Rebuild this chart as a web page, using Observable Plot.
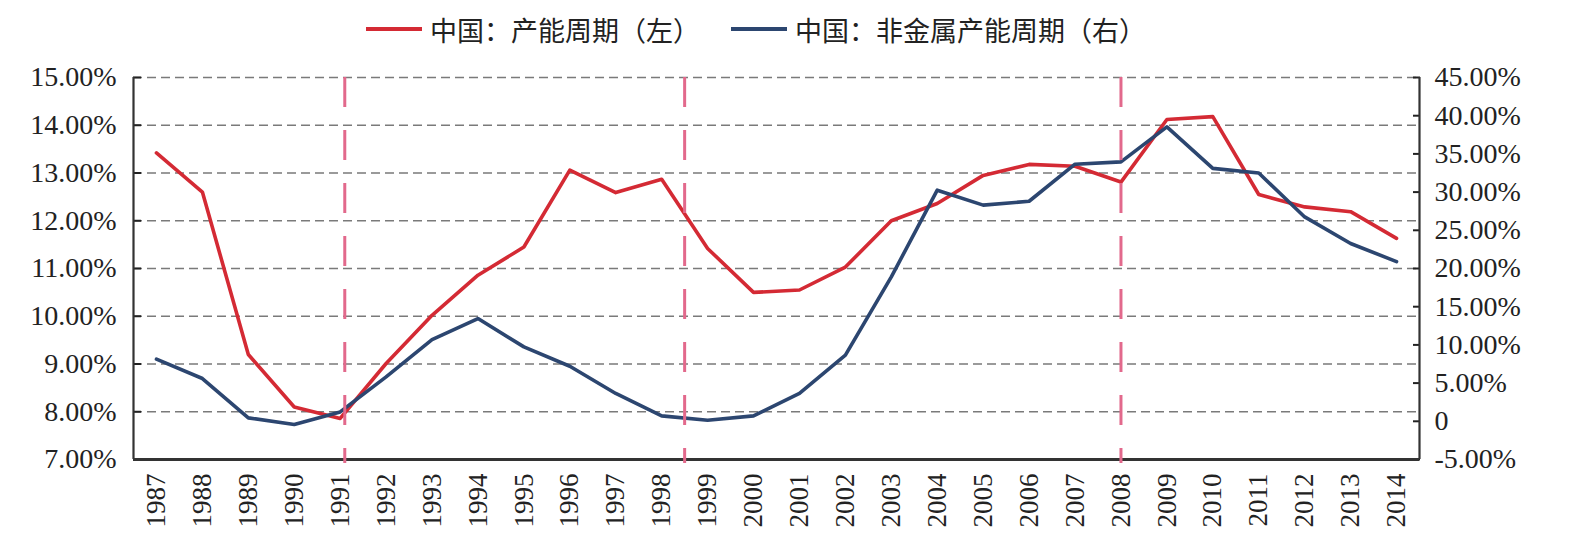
<!DOCTYPE html>
<html>
<head>
<meta charset="utf-8">
<script src="https://cdn.jsdelivr.net/npm/d3@7"></script>
<script src="https://cdn.jsdelivr.net/npm/@observablehq/plot@0.6"></script>
<style>
  body { margin: 0; background: #fff; }
  #legend {
    height: 58px; display: flex; align-items: center; padding-left: 366px;
    font-family: "Noto Sans CJK SC", sans-serif; font-size: 27px; color: #222;
  }
  #legend .item { display: flex; align-items: center; }
  #legend .item + .item { margin-left: 31px; }
  #legend .swatch { width: 56px; height: 4px; margin-right: 8px; }
</style>
</head>
<body>
<div id="legend"></div>
<div id="chart"></div>
<script>
// Years on the horizontal axis
const years = [1987, 1988, 1989, 1990, 1991, 1992, 1993, 1994, 1995, 1996,
  1997, 1998, 1999, 2000, 2001, 2002, 2003, 2004, 2005, 2006,
  2007, 2008, 2009, 2010, 2011, 2012, 2013, 2014];

// 中国：产能周期（左轴，%）
const capacityCycle = [13.42, 12.60, 9.20, 8.10, 7.86, 9.01, 10.02, 10.86, 11.45, 13.06,
  12.59, 12.87, 11.42, 10.50, 10.55, 11.03, 12.00, 12.36, 12.95, 13.18,
  13.14, 12.81, 14.12, 14.18, 12.55, 12.29, 12.19, 11.63];

// 中国：非金属产能周期（右轴，%）
const nonMetalCycle = [8.13, 5.6, 0.45, -0.42, 1.23, 5.81, 10.7, 13.45, 9.74, 7.21,
  3.64, 0.71, 0.14, 0.71, 3.64, 8.65, 18.9, 30.25, 28.3, 28.8,
  33.65, 33.95, 38.54, 33.1, 32.5, 26.75, 23.27, 20.9];

// Axis ticks
const leftTicks = [7, 8, 9, 10, 11, 12, 13, 14, 15];
const rightTicks = [-5, 0, 5, 10, 15, 20, 25, 30, 35, 40, 45];

// Cycle turning points marked with vertical dashed lines
const cycleBreaks = [1991.1, 1998.5, 2008];

const seriesNames = ["中国：产能周期（左）", "中国：非金属产能周期（右）"];
const seriesColors = ["#d42a34", "#2c4670"];

// Legend
const legend = d3.select("#legend");
seriesNames.forEach((name, i) => {
  const item = legend.append("div").attr("class", "item");
  item.append("div").attr("class", "swatch").style("background", seriesColors[i]);
  item.append("span").text(name);
});

// Map right-axis values onto the left-axis scale
const lo = leftTicks[0], hi = leftTicks[leftTicks.length - 1];
const rlo = rightTicks[0], rhi = rightTicks[rightTicks.length - 1];
const toLeft = v => lo + (v - rlo) * (hi - lo) / (rhi - rlo);

const xDomain = [years[0] - 0.5, years[years.length - 1] + 0.5];
const capacityData = years.map((year, i) => ({year, value: capacityCycle[i]}));
const nonMetalData = years.map((year, i) => ({year, value: toLeft(nonMetalCycle[i])}));

const chart = Plot.plot({
  width: 1586,
  height: 498,
  marginTop: 19,
  marginBottom: 97,
  marginLeft: 133,
  marginRight: 167,
  style: {fontFamily: "'Liberation Serif', 'Times New Roman', serif", color: "#222", background: "#fff"},
  x: {type: "linear", domain: xDomain},
  y: {domain: [lo, hi]},
  marks: [
    Plot.gridY(leftTicks.filter(t => t > lo), {stroke: "#7a7a7a", strokeOpacity: 1, strokeWidth: 1.3, strokeDasharray: "9,5"}),
    Plot.axisY(leftTicks, {anchor: "left", tickSize: -8, tickPadding: 25, strokeWidth: 2, fontSize: 28,
      tickFormat: d => d.toFixed(2) + "%", label: null}),
    Plot.axisY(rightTicks.map(toLeft), {anchor: "right", tickSize: -7, tickPadding: 22, strokeWidth: 2, fontSize: 28,
      tickFormat: (d, i) => rightTicks[i] === 0 ? "0" : rightTicks[i].toFixed(2) + "%", label: null}),
    Plot.axisX(years, {anchor: "bottom", tickSize: 0, tickPadding: 14, tickRotate: -90, fontSize: 27,
      tickFormat: d => String(d), label: null}),
    Plot.ruleX(xDomain, {stroke: "#333", strokeWidth: 2.2}),
    Plot.ruleY([lo], {stroke: "#333", strokeWidth: 3}),
    Plot.line(capacityData, {x: "year", y: "value", stroke: seriesColors[0], strokeWidth: 3.6}),
    Plot.line(nonMetalData, {x: "year", y: "value", stroke: seriesColors[1], strokeWidth: 3.6}),
    Plot.ruleX(cycleBreaks, {stroke: "#e2698c", strokeWidth: 3, strokeDasharray: "30,23", insetBottom: -4})
  ]
});
document.getElementById("chart").appendChild(chart);
</script>
</body>
</html>
